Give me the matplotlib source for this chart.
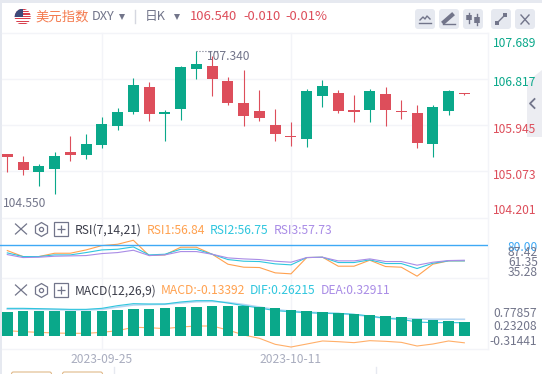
import numpy as np
import matplotlib
matplotlib.use("Agg")
import matplotlib.pyplot as plt
from matplotlib.patches import Circle, FancyBboxPatch, Rectangle, Polygon

plt.rcParams['font.family'] = ['Noto Sans CJK SC', 'DejaVu Sans']

# daily candles
opens = [105.405, 105.254, 105.065, 105.122, 105.443, 105.386, 105.575, 105.935, 106.199, 106.672,
         106.161, 106.256, 107.012, 107.069, 106.785, 106.369, 106.218, 105.953, 105.746, 105.689,
         106.502, 106.558, 106.237, 106.237, 106.539, 106.218, 106.180, 105.594, 106.218, 106.558]
highs = [105.405, 105.368, 105.216, 105.443, 105.746, 105.783, 106.105, 106.275, 106.842, 106.766,
         106.237, 107.069, 107.358, 107.258, 106.861, 106.993, 106.615, 106.256, 106.010, 106.634,
         106.804, 106.615, 106.520, 106.634, 106.672, 106.426, 106.331, 106.331, 106.615, 106.558]
lows = [105.065, 105.008, 104.801, 104.649, 105.273, 105.311, 105.519, 105.859, 106.161, 106.029,
        105.651, 106.048, 106.823, 106.502, 106.331, 105.935, 106.029, 105.651, 105.557, 105.538,
        106.299, 106.180, 106.010, 106.010, 105.935, 106.067, 105.519, 105.349, 106.142, 106.520]
closes = [105.349, 105.103, 105.179, 105.368, 105.386, 105.594, 105.972, 106.199, 106.709, 106.161,
          106.199, 107.050, 107.106, 106.823, 106.369, 106.124, 106.086, 105.783, 105.732, 106.602,
          106.691, 106.218, 106.199, 106.596, 106.237, 106.205, 105.613, 106.294, 106.596, 106.539]

rsi1 = [72.06, 63.18, 63.18, 68.11, 68.11, 73.04, 79.46, 81.43, 87.35, 64.66,
        65.64, 76.99, 76.99, 66.63, 51.83, 47.39, 46.90, 39.00, 37.52, 61.70,
        62.19, 48.87, 48.87, 57.75, 48.38, 47.39, 34.07, 51.83, 56.76, 56.84]
rsi2 = [68.60, 63.18, 63.18, 65.64, 65.64, 69.10, 73.04, 74.03, 77.48, 65.64,
        66.63, 74.03, 74.03, 66.63, 58.73, 56.27, 55.78, 52.32, 50.85, 61.70,
        62.19, 54.30, 54.30, 58.24, 52.82, 52.82, 45.42, 53.31, 56.76, 56.75]
rsi3 = [66.14, 61.70, 62.19, 63.67, 64.16, 64.66, 67.62, 69.10, 72.55, 64.66,
        65.64, 70.58, 70.58, 66.63, 61.20, 59.72, 58.73, 56.27, 54.79, 61.70,
        62.19, 56.76, 56.76, 59.72, 55.78, 55.78, 50.35, 54.79, 57.26, 57.73]

macd_bars = [.473, .4925, .4925, .4925, .4925, .4925, .4925, .512, .532, .532,
             .552, .571, .571, .591, .591, .591, .571, .552, .512, .4925,
             .473, .453, .433, .414, .394, .374, .335, .315, .296, .276]
macd_line = [.105, .085, .072, .059, .053, .053, .072, .105, .171, .164,
             .145, .177, .197, .197, .118, .020, -.046, -.164, -.217, -.158,
             -.098, -.112, -.131, -.092, -.105, -.125, -.197, -.158, -.098, -.134]
dif = [.545, .545, .539, .532, .525, .525, .545, .598, .637, .630,
       .630, .670, .696, .696, .650, .598, .552, .499, .479, .460,
       .447, .447, .427, .394, .348, .328, .276, .263, .263, .262]
dea = [.530, .530, .525, .520, .515, .515, .525, .570, .610, .620,
       .625, .650, .675, .680, .660, .620, .570, .520, .490, .470,
       .455, .440, .420, .385, .350, .345, .335, .330, .330, .329]

price_ticks = ['107.689', '106.817', '105.945', '105.073', '104.201']
rsi_ticks = ['87.42', '61.35', '35.28']
macd_ticks = ['0.77857', '0.23208', '-0.31441']
date_labels = ['2023-09-25', '2023-10-11']
date_index = [6, 18]

GREEN = '#0AA88A'
RED = '#DD4E5B'
ORANGE = '#FFA14F'
CYAN = '#2FC6DE'
PURPLE = '#A98CE6'
GREY = '#72758A'
GRID = '#F3F4F8'
FS = 8.7

W, H = 542, 374
fig = plt.figure(figsize=(W / 100, H / 100), dpi=100, facecolor='white')


def pane(top, bottom):
    # axes from pixel rows, x shared by all three panes
    a = fig.add_axes([0, 1 - bottom / H, 487.5 / W, (bottom - top) / H])
    a.set_xlim(-0.463, 30.47)
    a.patch.set_alpha(0)
    a.set_xticks([])
    a.set_yticks([])
    for s in a.spines.values():
        s.set_visible(False)
    return a


# whole figure in pixels, for the header, icons and labels
bg = fig.add_axes([0, 0, 1, 1])
bg.set_xlim(0, W)
bg.set_ylim(H, 0)
bg.axis('off')

bg.add_patch(Rectangle((0, 0), W, 3, color='#E6E9F0', lw=0))
bg.add_patch(Rectangle((0, 0), 1.5, H, color='#E6E9F0', lw=0))
for y in [33, 79.3, 125, 171, 218, 278, 349.3]:
    bg.plot([1.5, 487.5], [y, y], color=GRID, lw=1)
for x in [101.5, 291.3]:
    bg.plot([x, x], [33, 349.3], color=GRID, lw=1)
bg.plot([487.5, 487.5], [33, 349.3], color=GRID, lw=1)

# flag
flag = Circle((22.7, 16.7), 8, transform=bg.transData, color='white', lw=0)
bg.add_patch(flag)
for i in range(7):
    r = Rectangle((14, 8.5 + i * 2.4), 18, 1.2, color='#D8404E', lw=0)
    bg.add_patch(r)
    r.set_clip_path(flag)
canton = Rectangle((14, 8.5), 9, 8, color='#3C4A7A', lw=0)
bg.add_patch(canton)
canton.set_clip_path(flag)

bg.text(35.5, 16.5, '美元指数', color='#F47B4F', fontsize=9.6, va='center')
bg.text(91.5, 16.5, 'DXY', color=GREY, fontsize=9.2, va='center')
bg.plot([122], [17], marker='v', ms=4, color=GREY, mew=0)
bg.plot([135, 135], [10, 23], color='#D5D7E0', lw=1)
bg.text(145, 16.5, '日K', color=GREY, fontsize=9.2, va='center')
bg.plot([177], [17], marker='v', ms=4, color=GREY, mew=0)
bg.text(190, 16.5, '106.540', color=RED, fontsize=9.4, va='center', fontweight='medium')
bg.text(243, 16.5, '-0.010', color=RED, fontsize=9.4, va='center', fontweight='medium')
bg.text(285, 16.5, '-0.01%', color=RED, fontsize=9.4, va='center', fontweight='medium')

# toolbar buttons
for x in [415, 439, 463, 491, 515]:
    bg.add_patch(FancyBboxPatch((x + 2, 11), 16, 16, boxstyle='round,pad=2,rounding_size=3',
                                color='#E6E9F0', lw=0))
bg.plot([420, 423, 425, 427, 430], [20, 17, 19, 16, 19], color=GREY, lw=1)
bg.plot([419, 431], [23, 23], color=GREY, lw=1)
bg.plot([444, 452], [22, 15], color=GREY, lw=3)
bg.plot([443, 455], [24, 24], color=GREY, lw=1)
bg.plot([469, 469], [13, 23], color=GREY, lw=1)
bg.plot([469, 469], [15, 20], color=GREY, lw=4, solid_capstyle='butt')
bg.plot([477, 477], [14, 25], color=GREY, lw=1)
bg.plot([477, 477], [17, 23], color=GREY, lw=4, solid_capstyle='butt')
bg.plot([497, 505], [23, 15], color=GREY, lw=1)
bg.plot([497], [23], marker='s', ms=2.5, color=GREY, mew=0)
bg.plot([505], [15], marker='s', ms=2.5, color=GREY, mew=0)
bg.plot([521, 529], [15, 24], color=GREY, lw=1)
bg.plot([529, 521], [15, 24], color=GREY, lw=1)

# side tab
bg.add_patch(Polygon([(527, 82), (542, 70), (542, 137), (527, 137)], color='#ECEDF2', lw=0))
bg.plot([534.5, 530, 534.5], [99, 103.5, 108], color=GREY, lw=1.3)

# price pane
ax = pane(33, 218)
ax.set_ylim(108.316 - 0.0189 * 218, 108.316 - 0.0189 * 33)
for i in range(len(opens)):
    col = GREEN if closes[i] >= opens[i] else RED
    ax.vlines(i, lows[i], highs[i], color=col, lw=0.8)
    top = max(opens[i], closes[i])
    bot = min(opens[i], closes[i])
    ax.bar(i, top - bot, bottom=bot, width=0.7, color=col, lw=0, zorder=3)

ax.plot([12, 13.5], [highs[12], highs[12]], color=GREY, lw=0.8, ls=':')
bg.text(207, 56, '107.340', color=GREY, fontsize=FS, va='center')
bg.text(3, 203.5, '104.550', color=GREY, fontsize=FS, va='center')

price_y = [43.5, 82.7, 129.7, 175.7, 210.5]
price_col = [GREEN, GREEN, RED, RED, RED]
for lab, y, c in zip(price_ticks, price_y, price_col):
    bg.text(493, y, lab, color=c, fontsize=FS, va='center')

# rsi pane
ax2 = pane(218, 278)
ax2.set_ylim(80 - 33 * 1.48 + 0.2, 80 + 27.3 * 1.48)
x = np.arange(len(rsi1))
ax2.plot(x, rsi1, color=ORANGE, lw=0.8)
ax2.plot(x, rsi2, color=CYAN, lw=0.8)
ax2.plot(x, rsi3, color=PURPLE, lw=0.8)
ax2.axhline(80, color='#3FA9F5', lw=1)
bg.text(508, 247, '80.00', color='#3FA9F5', fontsize=FS, va='center')
for lab, y in zip(rsi_ticks, [253, 262, 272]):
    bg.text(508, y, lab, color=GREY, fontsize=FS, va='center')

# macd pane
ax3 = pane(278, 349.3)
ax3.set_ylim((336 - 349.3) * 0.0197, (336 - 278) * 0.0197)
ax3.bar(x, macd_bars, width=0.67, color=GREEN, lw=0, zorder=3)
ax3.plot(x, macd_line, color=ORANGE, lw=0.8, alpha=0.85, zorder=2)
ax3.plot(x, dea, color='#B6D6F2', lw=1.2, zorder=1)
ax3.plot(x, dif, color=CYAN, lw=0.8, zorder=2)
for lab, y in zip(macd_ticks, [313.7, 327, 341.5]):
    bg.text(537, y, lab, color=GREY, fontsize=FS, va='center', ha='right')

# pane titles with their icons
for cy in [229, 290]:
    bg.plot([15.5, 26.5], [cy - 5, cy + 5], color=GREY, lw=0.9)
    bg.plot([26.5, 15.5], [cy - 5, cy + 5], color=GREY, lw=0.9)
    bg.plot([41], [cy], marker='h', ms=10, mfc='none', mec=GREY, mew=0.9)
    bg.plot([41], [cy], marker='o', ms=3, mfc='none', mec=GREY, mew=0.9)
    bg.plot([61], [cy], marker='s', ms=9.5, mfc='none', mec=GREY, mew=0.9)
    bg.plot([61], [cy], marker='+', ms=6, color=GREY, mew=0.9)

bg.text(75, 230, 'RSI(7,14,21)', color='#3B3D4A', fontsize=FS, va='center')
bg.text(146.5, 230, 'RSI1:56.84', color=ORANGE, fontsize=FS, va='center')
bg.text(210, 230, 'RSI2:56.75', color=CYAN, fontsize=FS, va='center')
bg.text(273.5, 230, 'RSI3:57.73', color=PURPLE, fontsize=FS, va='center')

bg.text(75, 291, 'MACD(12,26,9)', color='#3B3D4A', fontsize=FS, va='center')
bg.text(161, 291, 'MACD:-0.13392', color=ORANGE, fontsize=FS, va='center')
bg.text(250, 291, 'DIF:0.26215', color=CYAN, fontsize=FS, va='center')
bg.text(320.5, 291, 'DEA:0.32911', color=PURPLE, fontsize=FS, va='center')

# date axis
for lab, i in zip(date_labels, date_index):
    bg.text(6.6 + i * 15.76, 359.5, lab, color='#A9ADBF', fontsize=FS, va='center', ha='center')

# bottom strip of the page, cut off by the crop
for x0 in [11.5, 62.5]:
    bg.add_patch(FancyBboxPatch((x0, 372), 40, 6, boxstyle='round,pad=0,rounding_size=2',
                                fc='white', ec='#E0B98A', lw=0.8))
bg.plot([113.5, 113.5], [367, 374], color='#E6E9F0', lw=1)
bg.plot([375.5, 375.5], [367, 374], color='#E6E9F0', lw=1)

fig.savefig('out.png', dpi=100)
